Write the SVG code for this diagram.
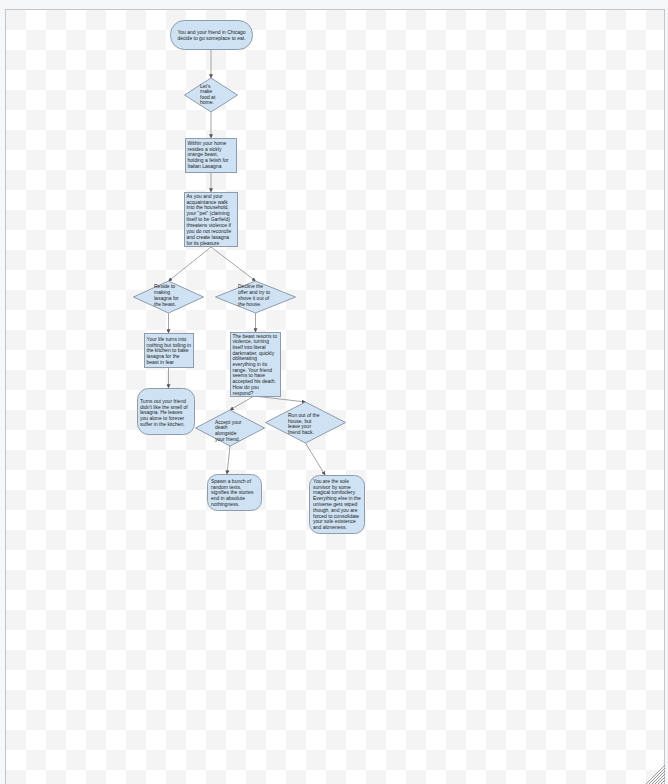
<svg xmlns="http://www.w3.org/2000/svg" width="668" height="784" viewBox="0 0 668 784">
<defs>
<pattern id="chk" x="6" y="10" width="40" height="40" patternUnits="userSpaceOnUse">
<rect width="40" height="40" fill="#ffffff"/>
<rect width="20" height="20" fill="#f4f4f4"/>
<rect x="20" y="20" width="20" height="20" fill="#f4f4f4"/>
</pattern>
<marker id="arr" viewBox="0 0 6 6" refX="5.5" refY="3" markerWidth="4" markerHeight="4" orient="auto" markerUnits="userSpaceOnUse">
<path d="M0,0 L6,3 L0,6 Z" fill="#555"/>
</marker>
<style>
.n{fill:#cfe2f3;stroke:#8d9cad;stroke-width:1}
.t{font-family:"Liberation Sans",Arial,sans-serif;font-size:5px;fill:#222}
.c{text-anchor:middle}
.e{fill:none;stroke:#a3a3a3;stroke-width:1;marker-end:url(#arr)}
</style>
</defs>
<rect width="668" height="784" fill="#f6f7f9"/>
<rect x="5.5" y="9.5" width="659" height="780" fill="url(#chk)" stroke="#c6c6c6" stroke-width="1"/>
<g id="grip" stroke="#888" stroke-width="0.8">
<line x1="646" y1="784" x2="665" y2="765"/>
<line x1="649" y1="784" x2="665" y2="768"/>
<line x1="652" y1="784" x2="665" y2="771"/>
<line x1="655" y1="784" x2="665" y2="774"/>
<line x1="658" y1="784" x2="665" y2="777"/>
<line x1="661" y1="784" x2="665" y2="780"/>
</g>
<g id="edges">
<line class="e" x1="211" y1="49" x2="211" y2="78"/>
<line class="e" x1="211" y1="112" x2="211" y2="138"/>
<line class="e" x1="211" y1="172" x2="211" y2="192"/>
<line class="e" x1="211" y1="247" x2="168.5" y2="281"/>
<line class="e" x1="211" y1="247" x2="255.5" y2="281"/>
<line class="e" x1="168.5" y1="313" x2="168.5" y2="333"/>
<line class="e" x1="255.5" y1="313" x2="255.5" y2="332"/>
<line class="e" x1="168.5" y1="367" x2="168.5" y2="388"/>
<line class="e" x1="254" y1="396" x2="230" y2="410"/>
<line class="e" x1="254" y1="396" x2="305.5" y2="402"/>
<line class="e" x1="230" y1="446" x2="227" y2="474"/>
<line class="e" x1="305.5" y1="443" x2="325" y2="475"/>
</g>
<g id="n1">
<rect class="n" x="170.5" y="20.5" width="82" height="29" rx="14" ry="14"/>
<text class="t c" x="211.5" y="34.3">You and your friend in Chicago</text>
<text class="t c" x="211.5" y="40">decide to go someplace to eat.</text>
</g>
<g id="n2">
<polygon class="n" points="211,78 237.5,95 211,112 184.5,95"/>
<text class="t"><tspan x="200" y="87.6">Let's</tspan><tspan x="200" y="93.2">make</tspan><tspan x="200" y="98.8">food at</tspan><tspan x="200" y="104.4">home.</tspan></text>
</g>
<g id="n3">
<rect class="n" x="185.5" y="138.5" width="51" height="34"/>
<text class="t"><tspan x="187.5" y="145">Within your home</tspan><tspan x="187.5" y="150.7">resides a sickly</tspan><tspan x="187.5" y="156.4">orange beast,</tspan><tspan x="187.5" y="162.1">holding a fetish for</tspan><tspan x="187.5" y="167.8">Italian Lasagna</tspan></text>
</g>
<g id="n4">
<rect class="n" x="184.5" y="192.5" width="53" height="54"/>
<text class="t"><tspan x="186.5" y="197.6">As you and your</tspan><tspan x="186.5" y="203.5">acquaintance walk</tspan><tspan x="186.5" y="209.4">into the household,</tspan><tspan x="186.5" y="215.3">your "pet" (claiming</tspan><tspan x="186.5" y="221.2">itself to be Garfield)</tspan><tspan x="186.5" y="227.1">threatens violence if</tspan><tspan x="186.5" y="233">you do not reconcile</tspan><tspan x="186.5" y="238.9">and create lasagna</tspan><tspan x="186.5" y="244.8">for its pleasure</tspan></text>
</g>
<g id="n5">
<polygon class="n" points="168.5,281 203.5,297 168.5,313 133.5,297"/>
<text class="t"><tspan x="154" y="287.5">Reside to</tspan><tspan x="154" y="293.5">making</tspan><tspan x="154" y="299.5">lasagna for</tspan><tspan x="154" y="305.5">the beast.</tspan></text>
</g>
<g id="n6">
<polygon class="n" points="255.5,281 295.5,297 255.5,313 215.5,297"/>
<text class="t"><tspan x="238" y="287.5">Decline the</tspan><tspan x="238" y="293.5">offer and try to</tspan><tspan x="238" y="299.5">shove it out of</tspan><tspan x="238" y="305.5">the house.</tspan></text>
</g>
<g id="n7">
<rect class="n" x="144.5" y="333.5" width="49" height="34"/>
<text class="t"><tspan x="146.5" y="340.8">Your life turns into</tspan><tspan x="146.5" y="346.6">nothing but toiling in</tspan><tspan x="146.5" y="352.4">the kitchen to bake</tspan><tspan x="146.5" y="358.2">lasagna for the</tspan><tspan x="146.5" y="364">beast in fear</tspan></text>
</g>
<g id="n8">
<rect class="n" x="230.5" y="332.5" width="50" height="64"/>
<text class="t"><tspan x="232.5" y="337.5">The beast resorts to</tspan><tspan x="232.5" y="343.2">violence, turning</tspan><tspan x="232.5" y="348.9">itself into literal</tspan><tspan x="232.5" y="354.6">darkmatter, quickly</tspan><tspan x="232.5" y="360.3">obliterating</tspan><tspan x="232.5" y="366">everything in its</tspan><tspan x="232.5" y="371.7">range. Your friend</tspan><tspan x="232.5" y="377.4">seems to have</tspan><tspan x="232.5" y="383.1">accepted his death.</tspan><tspan x="232.5" y="388.8">How do you</tspan><tspan x="232.5" y="394.5">respond?</tspan></text>
</g>
<g id="n9">
<rect class="n" x="137.5" y="388.5" width="57" height="46" rx="11" ry="11"/>
<text class="t"><tspan x="140" y="402.8">Turns out your friend</tspan><tspan x="140" y="408.5">didn't like the smell of</tspan><tspan x="140" y="414.2">lasagna. He leaves</tspan><tspan x="140" y="419.9">you alone  to forever</tspan><tspan x="140" y="425.6">suffer in the kitchen.</tspan></text>
</g>
<g id="n10">
<polygon class="n" points="230,410 264.5,428 230,446 195.5,428"/>
<text class="t"><tspan x="215" y="423.5">Accept your</tspan><tspan x="215" y="429.2">death</tspan><tspan x="215" y="434.9">alongside</tspan><tspan x="215" y="440.6">your friend.</tspan></text>
</g>
<g id="n11">
<polygon class="n" points="305.5,402 345.5,422.5 305.5,443 265.5,422.5"/>
<text class="t"><tspan x="288" y="416.8">Run out of the</tspan><tspan x="288" y="422.5">house, but</tspan><tspan x="288" y="428.2">leave your</tspan><tspan x="288" y="433.9">friend back.</tspan></text>
</g>
<g id="n12">
<rect class="n" x="207.5" y="474.5" width="54" height="36" rx="10" ry="10"/>
<text class="t"><tspan x="211" y="482.8">Spawn a bunch of</tspan><tspan x="211" y="488.5">random texts,</tspan><tspan x="211" y="494.2">signifies the stories</tspan><tspan x="211" y="499.9">end in absolute</tspan><tspan x="211" y="505.6">nothingness.</tspan></text>
</g>
<g id="n13">
<rect class="n" x="309.5" y="475.5" width="55" height="58" rx="10" ry="10"/>
<text class="t"><tspan x="313" y="482.8">You are the sole</tspan><tspan x="313" y="488.6">survivor by some</tspan><tspan x="313" y="494.4">magical tomfoolery.</tspan><tspan x="313" y="500.2">Everything else in the</tspan><tspan x="313" y="506">universe gets wiped</tspan><tspan x="313" y="511.8">though, and you are</tspan><tspan x="313" y="517.6">forced to consolidate</tspan><tspan x="313" y="523.4">your sole existence</tspan><tspan x="313" y="529.2">and aloneness.</tspan></text>
</g>
</svg>
